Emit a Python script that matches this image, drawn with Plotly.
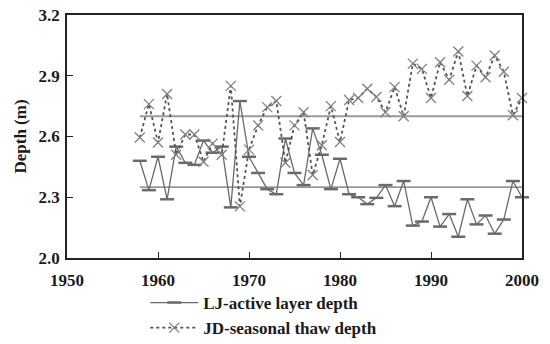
import plotly.graph_objects as go

years = list(range(1958, 2001))

lj_depth = [2.48, 2.335, 2.50, 2.29, 2.55, 2.47, 2.46, 2.58, 2.52, 2.55,
            2.25, 2.775, 2.50, 2.42, 2.34, 2.315, 2.59, 2.42, 2.36, 2.64,
            2.51, 2.34, 2.49, 2.315, 2.30, 2.266, 2.297, 2.36, 2.256, 2.38,
            2.16, 2.18, 2.30, 2.155, 2.217, 2.105, 2.29, 2.166, 2.21, 2.12,
            2.19, 2.38, 2.30]

jd_depth = [2.595, 2.76, 2.57, 2.81, 2.51, 2.61, 2.61, 2.475, 2.565, 2.51,
            2.85, 2.255, 2.535, 2.655, 2.745, 2.775, 2.47, 2.655, 2.72, 2.41,
            2.557, 2.75, 2.573, 2.78, 2.79, 2.836, 2.795, 2.72, 2.844, 2.70,
            2.96, 2.934, 2.79, 2.967, 2.88, 3.02, 2.80, 2.95, 2.893, 3.00,
            2.92, 2.705, 2.79]

lj_mean = 2.35
jd_mean = 2.70
mean_span = [1958, 2000]

x_ticks = [1950, 1960, 1970, 1980, 1990, 2000]
y_ticks = [2.0, 2.3, 2.6, 2.9, 3.2]
y_tick_labels = ["2.0", "2.3", "2.6", "2.9", "3.2"]

font_family = "Liberation Serif"

fig = go.Figure()

fig.add_trace(go.Scatter(
    x=mean_span, y=[jd_mean, jd_mean], mode="lines",
    line=dict(color="#9a9a9a", width=2), showlegend=False, hoverinfo="skip"))
fig.add_trace(go.Scatter(
    x=mean_span, y=[lj_mean, lj_mean], mode="lines",
    line=dict(color="#6e6e6e", width=1.3), showlegend=False, hoverinfo="skip"))

fig.add_trace(go.Scatter(
    x=years, y=lj_depth, mode="lines+markers",
    name="LJ-active layer depth",
    line=dict(color="#6a6a6a", width=1.3),
    marker=dict(symbol="line-ew", size=10, color="#6a6a6a",
                line=dict(color="#6a6a6a", width=2.5)),
    cliponaxis=False))

fig.add_trace(go.Scatter(
    x=years, y=jd_depth, mode="lines+markers",
    name="JD-seasonal thaw depth",
    line=dict(color="#555555", width=1.8, dash="dot"),
    marker=dict(symbol="x-thin", size=10, color="#808080",
                line=dict(color="#808080", width=1.3)),
    cliponaxis=False))

fig.update_layout(
    width=550, height=344,
    margin=dict(l=67, r=28, t=15, b=86, autoexpand=False),
    paper_bgcolor="white", plot_bgcolor="white",
    font=dict(family=font_family, size=16, color="#1a1a1a", weight="bold"),
    legend=dict(x=0.172, y=(344 - 285) / 344, xanchor="left", yanchor="top",
                yref="container",
                bgcolor="rgba(0,0,0,0)",
                font=dict(size=17, family=font_family, weight="bold"),
                tracegroupgap=0, itemwidth=48),
    showlegend=True,
)

fig.update_xaxes(
    range=[1950, 2000], tickvals=x_ticks,
    ticktext=[str(t) for t in x_ticks],
    ticks="inside", ticklen=6, tickcolor="#222", tickwidth=1.2,
    showline=True, linecolor="#222", linewidth=1.5, mirror=True,
    showgrid=False, zeroline=False,
    tickfont=dict(size=17, weight="bold"), ticklabelstandoff=6)

fig.update_yaxes(
    range=[2.0, 3.2], tickvals=y_ticks,
    ticktext=y_tick_labels,
    ticks="inside", ticklen=6, tickcolor="#222", tickwidth=1.2,
    showline=True, linecolor="#222", linewidth=1.5, mirror=True,
    showgrid=False, zeroline=False,
    tickfont=dict(size=17, weight="bold"), ticklabelstandoff=2,
    title=dict(text="Depth (m)", font=dict(size=17, weight="bold"), standoff=8))

fig.write_html("out.html")
